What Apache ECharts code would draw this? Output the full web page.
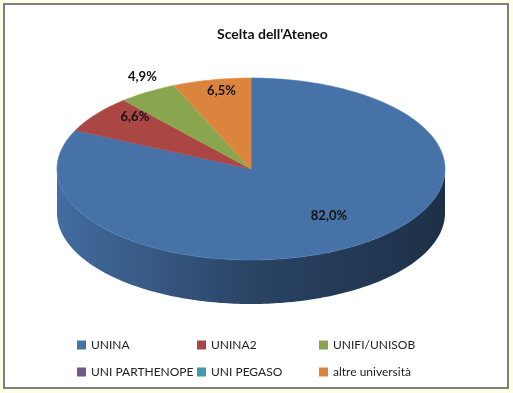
<!DOCTYPE html>
<html>
<head>
<meta charset="utf-8">
<script src="https://cdn.jsdelivr.net/npm/echarts@6/dist/echarts.min.js"></script>
<style>
    html, body { margin: 0; padding: 0; background: #ffffe8; }
    #chart { width: 513px; height: 393px; }
</style>
</head>
<body>
<div id="chart"></div>
<script>
var categories = ['UNINA', 'UNINA2', 'UNIFI/UNISOB', 'UNI PARTHENOPE', 'UNI PEGASO', 'altre università'];
var percentages = [82.0, 6.6, 4.9, 0, 0, 6.5];
var colors = ['#4672a8', '#aa4643', '#89a54e', '#71588f', '#4198af', '#db843d'];

// fake 3d pie geometry
var cx = 251, cy = 169, rx = 194, ry = 91, depth = 44;
var FONT = 'Lato, "Noto Sans", sans-serif';

function total() {
    return percentages.reduce(function (a, b) { return a + b; }, 0);
}

// multiply rgb by k (k < 1 darkens)
function shade(c, k) {
    var arr = echarts.color.parse(c);
    return 'rgb(' + Math.round(arr[0] * k) + ',' + Math.round(arr[1] * k) + ',' + Math.round(arr[2] * k) + ')';
}

function pt(a, dy) {
    return [cx + rx * Math.cos(a), cy + ry * Math.sin(a) + (dy || 0)];
}

function arc(a0, a1, dy) {
    var pts = [];
    var n = Math.max(2, Math.ceil((a1 - a0) / (Math.PI / 180)));
    for (var k = 0; k <= n; k++) {
        pts.push(pt(a0 + (a1 - a0) * k / n, dy));
    }
    return pts;
}

function renderSlice(params, api) {
    var i = params.seriesIndex;
    var v = api.value(0);
    if (!v) return null;
    var sum = total();
    var before = percentages.slice(0, i).reduce(function (a, b) { return a + b; }, 0);
    var a0 = -Math.PI / 2 + before / sum * Math.PI * 2;
    var a1 = a0 + v / sum * Math.PI * 2;
    var color = colors[i];
    var children = [];

    // side wall, only the front half is visible
    for (var k = -1; k <= 1; k++) {
        var s = Math.max(a0, k * 2 * Math.PI);
        var e = Math.min(a1, k * 2 * Math.PI + Math.PI);
        if (e > s) {
            var up = arc(s, e, 0);
            var down = arc(s, e, depth).reverse();
            children.push({
                type: 'polygon',
                shape: { points: up.concat(down) },
                style: {
                    fill: new echarts.graphic.LinearGradient(cx - rx, 0, cx + rx, 0, [
                        { offset: 0, color: shade(color, 0.95) },
                        { offset: 0.5, color: shade(color, 0.6) },
                        { offset: 1, color: shade(color, 0.42) }
                    ], true)
                }
            });
        }
    }

    // top face
    children.push({
        type: 'polygon',
        shape: { points: [[cx, cy]].concat(arc(a0, a1, 0)) },
        style: { fill: color, stroke: shade(color, 1.08), lineWidth: 0.6 }
    });

    // percentage label
    var mid = (a0 + a1) / 2;
    var f = v / sum < 0.05 ? 1.05 : 0.75;
    children.push({
        type: 'text',
        style: {
            text: v.toFixed(1).replace('.', ',') + '%',
            x: cx + rx * f * Math.cos(mid),
            y: cy + ry * f * Math.sin(mid) - 11,
            align: 'center',
            verticalAlign: 'middle',
            fill: '#111',
            fontSize: 13,
            fontWeight: 'bold',
            fontFamily: FONT
        }
    });

    return { type: 'group', children: children };
}

var chart = echarts.init(document.getElementById('chart'));

var legendBase = {
    orient: 'vertical',
    top: 338,
    padding: 0,
    icon: 'rect',
    itemWidth: 9,
    itemHeight: 9,
    itemGap: 13,
    selectedMode: false,
    textStyle: { color: '#222', fontSize: 12, fontFamily: FONT, lineHeight: 14 }
};

chart.setOption({
    backgroundColor: '#ffffe8',
    animation: false,
    color: colors,
    title: {
        text: "Scelta dell'Ateneo",
        left: 212,
        top: 22,
        textStyle: { color: '#111', fontSize: 14, fontWeight: 'bold', fontFamily: FONT }
    },
    graphic: [{
        type: 'rect',
        z: -10,
        shape: { x: 4, y: 4, width: 504, height: 384 },
        style: { fill: '#fff', stroke: '#7f7f7f', lineWidth: 2 }
    }],
    legend: [
        echarts.util.merge({ left: 77, data: [categories[0], categories[3]] }, legendBase),
        echarts.util.merge({ left: 197, data: [categories[1], categories[4]] }, legendBase),
        echarts.util.merge({ left: 319, data: [categories[2], categories[5]] }, legendBase)
    ],
    series: categories.map(function (name, i) {
        return {
            type: 'custom',
            name: name,
            coordinateSystem: 'none',
            itemStyle: { color: colors[i] },
            renderItem: renderSlice,
            data: [percentages[i]]
        };
    })
});
</script>
</body>
</html>
